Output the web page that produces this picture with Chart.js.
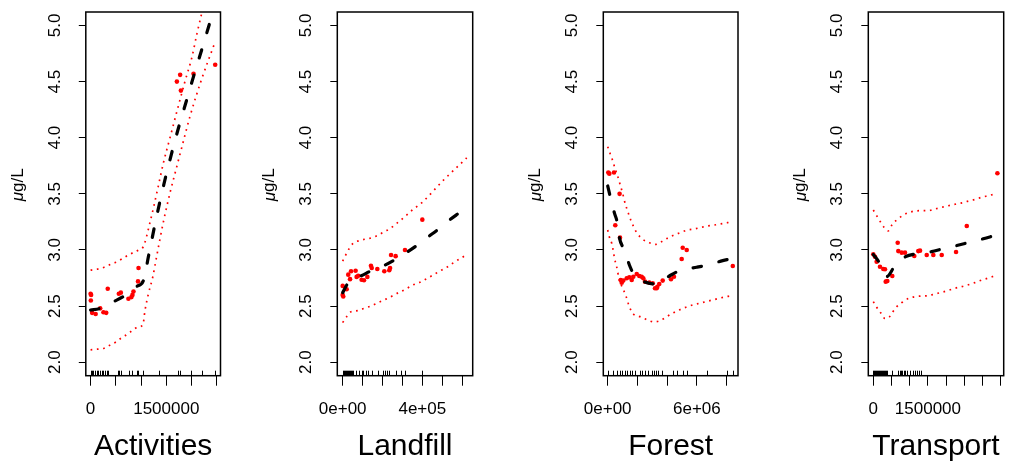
<!DOCTYPE html>
<html>
<head>
<meta charset="utf-8">
<script src="https://cdn.jsdelivr.net/npm/chart.js@4.4.1/dist/chart.umd.min.js"></script>
<style>
    html, body { margin: 0; padding: 0; background: #ffffff; }
    body { position: relative; width: 1010px; height: 462px; overflow: hidden; }
    canvas { position: absolute; top: 0; }
</style>
</head>
<body>

<canvas id="activities"></canvas>
<canvas id="landfill"></canvas>
<canvas id="forest"></canvas>
<canvas id="transport"></canvas>

<script>
// ---- shared y axis ----
const yTicks = [2.0, 2.5, 3.0, 3.5, 4.0, 4.5, 5.0];
const yLabels = ["2.0", "2.5", "3.0", "3.5", "4.0", "4.5", "5.0"];

// ---- Activities ----
const activitiesTicks = [0, 500000, 1000000, 1500000, 2000000, 2500000];
const activitiesLabels = ["0", "", "", "1500000", "", ""];
const activitiesPoints = [
    [0, 2.61], [10000, 2.60], [5000, 2.55], [30000, 2.44], [100000, 2.43],
    [190000, 2.48], [255000, 2.445], [310000, 2.44], [340000, 2.655],
    [560000, 2.61], [600000, 2.62], [750000, 2.565], [810000, 2.58],
    [830000, 2.60], [850000, 2.63], [940000, 2.72], [950000, 2.84],
    [1710000, 4.50], [1775000, 4.56], [1790000, 4.42], [2040000, 4.57],
    [2470000, 4.65]
];
const activitiesFit = [
    [0, 2.465], [190000, 2.48], [455000, 2.54], [650000, 2.585],
    [915000, 2.675], [1045000, 2.725], [1150000, 2.95], [1300000, 3.28],
    [1450000, 3.58], [1600000, 3.85], [1750000, 4.10], [1900000, 4.33],
    [2050000, 4.56], [2200000, 4.78], [2400000, 5.08]
];
const activitiesUpper = [
    [0, 2.82], [140000, 2.83], [270000, 2.846], [390000, 2.87], [500000, 2.89],
    [620000, 2.92], [730000, 2.95], [840000, 2.976], [950000, 3.0],
    [1045000, 3.03], [1180000, 3.25], [1338000, 3.56], [1440000, 3.77],
    [1580000, 4.01], [1720000, 4.25], [1870000, 4.50], [2010000, 4.72],
    [2110000, 4.93], [2470000, 5.6]
];
const activitiesLower = [
    [0, 2.11], [130000, 2.116], [270000, 2.125], [390000, 2.154], [500000, 2.18],
    [620000, 2.22], [730000, 2.25], [850000, 2.29], [950000, 2.317],
    [1035000, 2.33], [1080000, 2.466], [1146000, 2.61], [1233000, 2.76],
    [1300000, 2.92], [1443000, 3.25], [1580000, 3.52], [1707000, 3.74],
    [1840000, 3.97], [1970000, 4.19], [2200000, 4.52], [2465000, 4.85]
];
const activitiesRug = [
    0, 30000, 55000, 90000, 120000, 155000, 190000, 220000, 255000, 290000,
    320000, 350000, 540000, 565000, 600000, 760000, 830000, 915000, 945000,
    1045000, 1355000, 1730000, 1775000, 1995000, 2205000, 2470000
];

// ---- Landfill ----
const landfillTicks = [0, 100000, 200000, 300000, 400000, 500000, 600000];
const landfillLabels = ["0e+00", "", "", "", "4e+05", "", ""];
const landfillPoints = [
    [0, 2.68], [0, 2.60], [3000, 2.585], [20000, 2.65], [28000, 2.78],
    [37000, 2.74], [42000, 2.81], [65000, 2.815], [70000, 2.76], [78000, 2.77],
    [95000, 2.735], [107000, 2.73], [124000, 2.76], [142000, 2.86],
    [146000, 2.84], [174000, 2.83], [209000, 2.81], [234000, 2.82],
    [238000, 2.84], [243000, 2.955], [266000, 2.945], [313000, 3.0],
    [400000, 3.27]
];
const landfillFit = [
    [0, 2.62], [25000, 2.70], [55000, 2.75], [92000, 2.77], [137000, 2.81],
    [213000, 2.866], [259000, 2.91], [327000, 2.985], [372000, 3.04],
    [435000, 3.125], [477000, 3.18], [539000, 3.27], [585000, 3.33]
];
const landfillUpper = [
    [0, 2.90], [15000, 2.955], [32000, 3.01], [53000, 3.06], [83000, 3.083],
    [116000, 3.098], [149000, 3.11], [179000, 3.133], [209000, 3.163],
    [238000, 3.19], [266000, 3.23], [293000, 3.267], [321000, 3.31],
    [346000, 3.35], [372000, 3.386], [400000, 3.425], [505000, 3.62],
    [623000, 3.82]
];
const landfillLower = [
    [0, 2.353], [20000, 2.406], [42000, 2.45], [76000, 2.46], [107000, 2.48],
    [141000, 2.50], [171000, 2.525], [201000, 2.55], [233000, 2.575],
    [263000, 2.605], [293000, 2.63], [325000, 2.66], [355000, 2.69],
    [385000, 2.71], [417000, 2.74], [447000, 2.77], [476000, 2.80],
    [506000, 2.83], [536000, 2.86], [564000, 2.896], [594000, 2.926],
    [623000, 2.96]
];
const landfillRug = [
    0, 5000, 10000, 15000, 20000, 25000, 30000, 35000, 40000, 45000, 50000,
    67000, 83000, 95000, 104000, 117000, 129000, 146000, 179000, 204000,
    213000, 224000, 234000, 268000, 293000, 313000, 400000
];

// ---- Forest ----
const forestTicks = [0, 2000000, 4000000, 6000000, 8000000];
const forestLabels = ["0e+00", "", "", "6e+06", ""];
const forestPoints = [
    [40000, 3.69], [110000, 3.68], [424000, 3.69], [510000, 3.22],
    [800000, 3.50], [828000, 3.11], [875000, 2.733], [943000, 2.709],
    [1050000, 2.727], [1280000, 2.748], [1455000, 2.757], [1616000, 2.733],
    [1724000, 2.762], [1953000, 2.786], [2128000, 2.768], [2290000, 2.762],
    [2397000, 2.748], [2510000, 2.718], [2800000, 2.709], [3030000, 2.703],
    [3185000, 2.659], [3300000, 2.66], [3340000, 2.673], [3470000, 2.697],
    [3700000, 2.727], [4260000, 2.739], [4460000, 2.762], [4980000, 2.92],
    [5050000, 3.02], [5320000, 3.0], [8420000, 2.857]
];
const forestFit = [
    [0, 3.57], [200000, 3.46], [450000, 3.33], [650000, 3.24], [785000, 3.11],
    [1120000, 3.0], [1460000, 2.866], [1730000, 2.79], [2000000, 2.75],
    [2630000, 2.709], [3410000, 2.697], [3850000, 2.74], [4260000, 2.777],
    [4980000, 2.822], [5990000, 2.846], [6700000, 2.866], [7740000, 2.905],
    [8450000, 2.926]
];
const forestUpper = [
    [0, 3.92], [160000, 3.86], [337000, 3.795], [492000, 3.727],
    [646000, 3.668], [761000, 3.617], [875000, 3.564], [1010000, 3.505],
    [1100000, 3.451], [1230000, 3.392], [1390000, 3.327], [1550000, 3.267],
    [1720000, 3.214], [1950000, 3.154], [2360000, 3.095], [2800000, 3.065],
    [3250000, 3.05], [3700000, 3.08], [4080000, 3.11], [4460000, 3.133],
    [4940000, 3.157], [5360000, 3.178], [5810000, 3.187], [6260000, 3.2],
    [6700000, 3.214], [7160000, 3.222], [7610000, 3.232], [8050000, 3.243],
    [8420000, 3.252]
];
const forestLower = [
    [0, 3.178], [108000, 3.118], [270000, 3.06], [380000, 2.99], [450000, 2.93],
    [606000, 2.85], [781000, 2.733], [1010000, 2.66], [1230000, 2.59],
    [1455000, 2.495], [1724000, 2.43], [2175000, 2.406], [2667000, 2.377],
    [3118000, 2.359], [3520000, 2.37], [3973000, 2.406], [4418000, 2.44],
    [4820000, 2.466], [5270000, 2.49], [5720000, 2.51], [6170000, 2.525],
    [6620000, 2.54], [7070000, 2.555], [7520000, 2.57], [7970000, 2.584],
    [8420000, 2.593]
];
const forestRug = [
    40000, 337000, 606000, 828000, 943000, 1165000, 1280000, 1500000, 1616000,
    1840000, 2175000, 2290000, 2510000, 2730000, 2960000, 3120000, 3250000,
    3410000, 3640000, 4420000, 4650000, 5050000, 5320000, 6670000, 8010000,
    8420000
];

// ---- Transport ----
const transportTicks = [0, 500000, 1000000, 1500000, 2000000, 2500000, 3000000, 3500000];
const transportLabels = ["0", "", "", "1500000", "", "", "", ""];
const transportPoints = [
    [0, 2.962], [47000, 2.94], [93000, 2.896], [184000, 2.85], [275000, 2.83],
    [321000, 2.828], [341000, 2.718], [385000, 2.724], [522000, 2.768],
    [670000, 3.065], [687000, 2.99], [780000, 2.976], [871000, 2.976],
    [1126000, 2.947], [1236000, 2.99], [1283000, 2.994], [1467000, 2.955],
    [1648000, 2.955], [1879000, 2.955], [2272000, 2.982], [2566000, 3.214],
    [3407000, 3.683]
];
const transportFit = [
    [0, 2.96], [184000, 2.88], [380000, 2.765], [577000, 2.851], [887000, 2.94],
    [1190000, 2.966], [1600000, 2.985], [1900000, 3.01], [2320000, 3.042],
    [2610000, 3.066], [3020000, 3.1], [3320000, 3.128]
];
const transportUpper = [
    [0, 3.356], [93000, 3.305], [203000, 3.247], [302000, 3.199], [412000, 3.17],
    [522000, 3.229], [643000, 3.267], [797000, 3.305], [962000, 3.332],
    [1146000, 3.347], [1330000, 3.35], [1510000, 3.35], [1690000, 3.365],
    [1880000, 3.38], [2060000, 3.394], [2240000, 3.407], [2430000, 3.42],
    [2610000, 3.436], [2790000, 3.45], [2980000, 3.47], [3160000, 3.484],
    [3340000, 3.499]
];
const transportLower = [
    [0, 2.54], [93000, 2.49], [203000, 2.44], [321000, 2.39], [431000, 2.40],
    [533000, 2.448], [643000, 2.495], [808000, 2.537], [981000, 2.57],
    [1146000, 2.584], [1330000, 2.59], [1510000, 2.593], [1690000, 2.608],
    [1880000, 2.623], [2060000, 2.64], [2240000, 2.659], [2430000, 2.673],
    [2610000, 2.69], [2790000, 2.709], [2980000, 2.733], [3160000, 2.75],
    [3340000, 2.771]
];
const transportRug = [
    0, 20000, 45000, 70000, 95000, 120000, 150000, 175000, 200000, 230000,
    260000, 290000, 320000, 350000, 385000, 505000, 687000, 720000, 760000,
    800000, 840000, 880000, 918000, 1000000, 1100000, 1146000, 1210000,
    1264000, 1310000
];

const FONT = "'Liberation Sans', Arial, Helvetica, sans-serif";

// where each plot box sits on the page
const panels = [
    { id: "activities", title: "Activities", boxLeft: 85.8, boxRight: 220.5,
      xMin: -95000, xMax: 2575000, ticks: activitiesTicks, labels: activitiesLabels,
      points: activitiesPoints, fit: activitiesFit, upper: activitiesUpper,
      lower: activitiesLower, rug: activitiesRug },
    { id: "landfill", title: "Landfill", boxLeft: 337.3, boxRight: 472.7,
      xMin: -27000, xMax: 653000, ticks: landfillTicks, labels: landfillLabels,
      points: landfillPoints, fit: landfillFit, upper: landfillUpper,
      lower: landfillLower, rug: landfillRug },
    { id: "forest", title: "Forest", boxLeft: 603.3, boxRight: 738,
      xMin: -296000, xMax: 8770000, ticks: forestTicks, labels: forestLabels,
      points: forestPoints, fit: forestFit, upper: forestUpper,
      lower: forestLower, rug: forestRug },
    { id: "transport", title: "Transport", boxLeft: 868.3, boxRight: 1003.7,
      xMin: -137000, xMax: 3580000, ticks: transportTicks, labels: transportLabels,
      points: transportPoints, fit: transportFit, upper: transportUpper,
      lower: transportLower, rug: transportRug }
];

const BOX_TOP = 12;
const BOX_BOTTOM = 375.7;

const xy = pairs => pairs.map(([x, y]) => ({ x: x, y: y }));

// frame, rug marks and the rotated y label
const framePlugin = {
    id: "frame",
    afterDraw(chart, args, opts) {
        const ctx = chart.ctx;
        const a = chart.chartArea;
        const xScale = chart.scales.x;

        ctx.save();

        ctx.strokeStyle = "#000000";
        ctx.lineWidth = 1.5;
        ctx.strokeRect(a.left, a.top, a.right - a.left, a.bottom - a.top);

        ctx.lineWidth = 1;
        ctx.beginPath();
        opts.rug.forEach(v => {
            const px = Math.round(xScale.getPixelForValue(v)) + 0.5;
            ctx.moveTo(px, a.bottom);
            ctx.lineTo(px, a.bottom - 5);
        });
        ctx.stroke();

        ctx.translate(a.left - 67.5, (a.top + a.bottom) / 2 - 9);
        ctx.rotate(-Math.PI / 2);
        ctx.fillStyle = "#000000";
        ctx.textBaseline = "middle";
        ctx.font = "italic 17px " + FONT;
        const w1 = ctx.measureText("\u03bc").width;
        ctx.font = "17px " + FONT;
        const w2 = ctx.measureText("g/L").width;
        const start = -(w1 + w2) / 2;
        ctx.font = "italic 17px " + FONT;
        ctx.fillText("\u03bc", start, 0);
        ctx.font = "17px " + FONT;
        ctx.fillText("g/L", start + w1, 0);

        ctx.restore();
    }
};

function drawPanel(p) {

    const canvas = document.getElementById(p.id);
    const left = Math.floor(p.boxLeft) - 90;
    const right = Math.min(1010, Math.ceil(p.boxRight) + 10);
    const width = right - left;

    canvas.width = width;
    canvas.height = 462;
    canvas.style.left = left + "px";
    canvas.style.width = width + "px";
    canvas.style.height = "462px";

    const band = pairs => ({
        data: xy(pairs),
        showLine: true,
        borderColor: "#ff0000",
        borderWidth: 1.7,
        borderDash: [1.7, 4.6],
        pointRadius: 0,
        cubicInterpolationMode: "monotone"
    });

    new Chart(canvas, {
        type: "scatter",
        data: {
            datasets: [
                {
                    data: xy(p.fit),
                    showLine: true,
                    borderColor: "#000000",
                    borderWidth: 3.2,
                    borderDash: [8.5, 18],
                    borderCapStyle: "round",
                    pointRadius: 0,
                    cubicInterpolationMode: "monotone"
                },
                band(p.upper),
                band(p.lower),
                {
                    data: xy(p.points),
                    pointRadius: 2.3,
                    pointBackgroundColor: "#ff0000",
                    pointBorderWidth: 0
                }
            ]
        },
        options: {
            responsive: false,
            animation: false,
            devicePixelRatio: 1,
            layout: {
                padding: {
                    top: BOX_TOP,
                    left: 0,
                    bottom: 0,
                    right: width - (p.boxRight - left)
                }
            },
            plugins: {
                legend: { display: false },
                tooltip: { enabled: false },
                frame: { rug: p.rug }
            },
            scales: {
                x: {
                    type: "linear",
                    min: p.xMin,
                    max: p.xMax,
                    afterBuildTicks: s => {
                        s.ticks = p.ticks.map(v => ({ value: v }));
                    },
                    afterFit: s => {
                        s.height = 462 - BOX_BOTTOM;
                        s.paddingLeft = 0;
                        s.paddingRight = 0;
                    },
                    ticks: {
                        autoSkip: false,
                        minRotation: 0,
                        maxRotation: 0,
                        padding: 13,
                        color: "#000000",
                        font: { family: FONT, size: 17 },
                        callback: (v, i) => p.labels[i]
                    },
                    grid: {
                        drawOnChartArea: false,
                        drawTicks: true,
                        tickLength: 10,
                        color: "#000000",
                        lineWidth: 1
                    },
                    border: { display: false },
                    title: {
                        display: true,
                        text: p.title,
                        color: "#000000",
                        font: { family: FONT, size: 30, lineHeight: 1 },
                        padding: 0
                    }
                },
                y: {
                    type: "linear",
                    min: 1.88,
                    max: 5.12,
                    afterBuildTicks: s => {
                        s.ticks = yTicks.map(v => ({ value: v }));
                    },
                    afterFit: s => {
                        s.width = p.boxLeft - left;
                        s.paddingTop = 0;
                        s.paddingBottom = 0;
                    },
                    ticks: {
                        autoSkip: false,
                        minRotation: 90,
                        maxRotation: 90,
                        crossAlign: "center",
                        padding: 12,
                        color: "#000000",
                        font: { family: FONT, size: 17 },
                        callback: (v, i) => yLabels[i]
                    },
                    grid: {
                        drawOnChartArea: false,
                        drawTicks: true,
                        tickLength: 7,
                        color: "#000000",
                        lineWidth: 1
                    },
                    border: { display: false }
                }
            }
        },
        plugins: [framePlugin]
    });
}

panels.forEach(drawPanel);
</script>
</body>
</html>
